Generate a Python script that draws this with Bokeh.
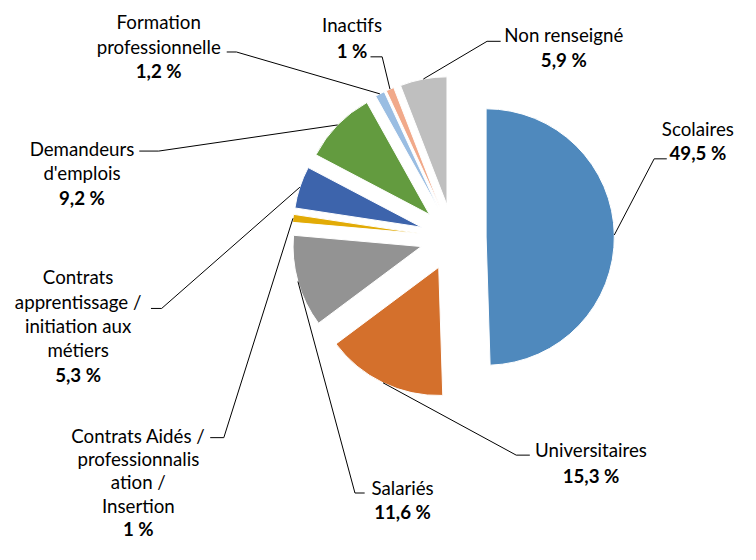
import math
from bokeh.plotting import figure
from bokeh.models import Range1d, ColumnDataSource
from bokeh.core.properties import value
from bokeh.embed import file_html
from bokeh.resources import INLINE

# ---------------- data ----------------
categories = [
    "Scolaires",
    "Universitaires",
    "Salariés",
    "Contrats Aidés / professionnalisation / Insertion",
    "Contrats apprentissage / initiation aux métiers",
    "Demandeurs d'emplois",
    "Formation professionnelle",
    "Inactifs",
    "Non renseigné",
]
values = [49.5, 15.3, 11.6, 1.0, 5.3, 9.2, 1.2, 1.0, 5.9]
label_lines = [
    ["Scolaires"],
    ["Universitaires"],
    ["Salariés"],
    ["Contrats Aidés /", "professionnalis", "ation /", "Insertion"],
    ["Contrats", "apprentissage /", "initiation aux", "métiers"],
    ["Demandeurs", "d'emplois"],
    ["Formation", "professionnelle"],
    ["Inactifs"],
    ["Non renseigné"],
]

# ---------------- styles / layout ----------------
colors = ["#4F89BD", "#D4702C", "#939393", "#E2AB06", "#3D64AC",
          "#639B3F", "#9ABDE2", "#F1A98A", "#BFBFBF"]
W, H = 740, 544
REF_W, REF_H = 756, 560
K = H / REF_H                      # uniform scale reference -> canvas
XSPAN = W / K
X0 = (REF_W - XSPAN) / 2
CX, CY = 463.0, 244.0      # pie centre (reference pixel coords)
R = 132.0                  # radius
EXPLODE = 34.0             # explosion distance
# label anchors (centre x, first-line y) and line spacing
anchors = [(715, 132), (605, 463), (411, 502), (139, 448), (77, 285),
           (81, 153), (160, 22), (359, 25), (577, 36)]
spacing = [25, 26, 25, 24, 25, 25, 25.5, 26.5, 25.5]
elbows = [(670, 163), (528, 468), (362, 507), (227, 450), (163, 317),
          (160, 155), (240, 53), (390, 58), (498, 42)]
hends = [683, 542, 372, 213, 152, 140, 230, 378, 512]
FONT = "Lato"
FS = "%.1fpx" % (19.2 * K)


def fmt(v):
    s = ("%.1f" % v).replace(".", ",")
    if s.endswith(",0"):
        s = s[:-2]
    return s + " %"


def fy(y_ref):
    return REF_H - y_ref


p = figure(width=W, height=H, output_backend="svg", toolbar_location=None,
           x_range=Range1d(X0, X0 + XSPAN), y_range=Range1d(0, REF_H),
           min_border=0, x_axis_location=None, y_axis_location=None)
p.grid.visible = False
p.outline_line_color = None
p.background_fill_color = "white"
p.border_fill_color = "white"

total = sum(values)
wx, wy, ws, we, wc = [], [], [], [], []
lxs, lys = [], []
tx, ty, tt = [], [], []
bx, by, bt = [], [], []
cum = 0.0
for i, v in enumerate(values):
    ts = cum / total * 2 * math.pi
    te = (cum + v) / total * 2 * math.pi
    tm = (ts + te) / 2
    cum += v
    ex = CX + EXPLODE * math.sin(tm)
    ey = fy(CY) + EXPLODE * math.cos(tm)
    wx.append(ex)
    wy.append(ey)
    ws.append(math.pi / 2 - te)
    we.append(math.pi / 2 - ts)
    wc.append(colors[i])
    # leader line
    px = CX + (EXPLODE + R) * math.sin(tm)
    py = fy(CY) + (EXPLODE + R) * math.cos(tm)
    elx, ely = elbows[i]
    lxs.append([px, elx, hends[i]])
    lys.append([py, fy(ely), fy(ely)])
    # labels
    ax, ay = anchors[i]
    for k, line in enumerate(label_lines[i]):
        tx.append(ax)
        ty.append(fy(ay + k * spacing[i]))
        tt.append(line)
    bx.append(ax)
    by.append(fy(ay + len(label_lines[i]) * spacing[i]))
    bt.append(fmt(v))

src = ColumnDataSource(dict(x=wx, y=wy, s=ws, e=we, c=wc, cat=categories, v=values))
p.wedge(x="x", y="y", radius=R, start_angle="s", end_angle="e",
        fill_color="c", line_color="white", line_width=1, source=src)

p.multi_line(xs=lxs, ys=lys, line_color="black", line_width=1)

p.text(x=tx, y=ty, text=tt, text_align="center", text_baseline="middle",
       text_font=value(FONT), text_font_size=FS, text_color="#000000")
p.text(x=bx, y=by, text=bt, text_align="center", text_baseline="middle",
       text_font=value(FONT), text_font_size=FS, text_font_style="bold",
       text_color="#000000")

open("out.html", "w").write(file_html(p, INLINE))
